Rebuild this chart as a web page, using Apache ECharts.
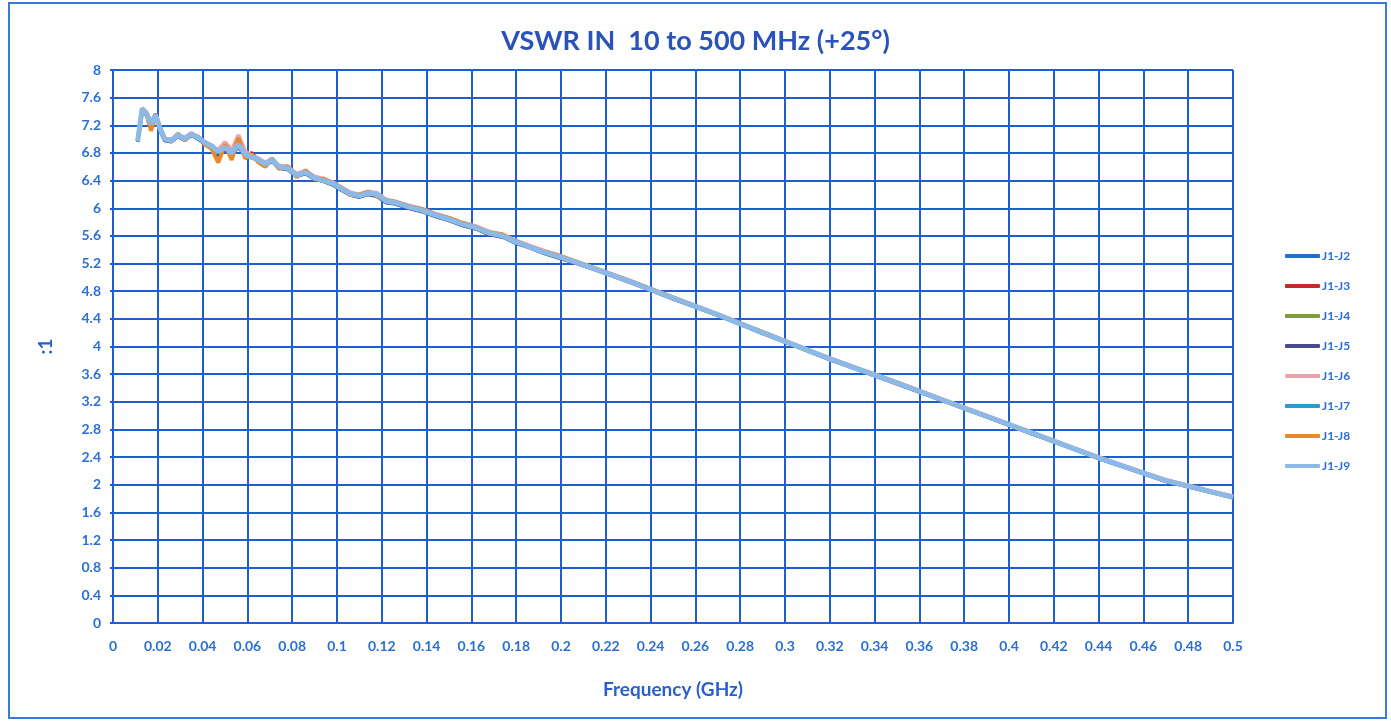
<!DOCTYPE html>
<html>
<head>
<meta charset="utf-8">
<script src="https://cdn.jsdelivr.net/npm/echarts@6/dist/echarts.min.js"></script>
<style>
html,body{margin:0;padding:0;background:#fff;}
#chart{width:1391px;height:721px;}
</style>
</head>
<body>
<div id="chart"></div>
<script>
const titleText = 'VSWR IN  10 to 500 MHz (+25°)';
const seriesNames = ['J1-J2','J1-J3','J1-J4','J1-J5','J1-J6','J1-J7','J1-J8','J1-J9'];
const seriesColors = ['#1f6fd1','#c8282d','#7f9c3c','#4b4a8c','#eaa3ad','#2b9bcf','#e8892c','#8bbae8'];

const freq = [0.011,0.013,0.015,0.017,0.019,0.021,0.023,0.026,0.029,0.032,
  0.035,0.038,0.041,0.044,0.047,0.050,0.053,0.056,0.059,0.062,
  0.065,0.068,0.071,0.074,0.078,0.082,0.086,0.090,0.094,0.098,
  0.102,0.106,0.110,0.114,0.118,0.122,0.126,0.132,0.138,0.144,
  0.150,0.156,0.162,0.168,0.174,0.180,0.186,0.192,0.198,0.210,
  0.230,0.250,0.270,0.290,0.320,0.350,0.380,0.410,0.440,0.470,0.500];

const j2 = [6.98,7.42,7.38,7.20,7.33,7.13,7.01,6.99,7.05,7.01,
  7.06,7.00,6.94,6.88,6.80,6.86,6.82,6.90,6.76,6.75,
  6.68,6.65,6.68,6.61,6.57,6.49,6.51,6.45,6.39,6.35,
  6.27,6.22,6.17,6.21,6.19,6.11,6.07,6.03,5.96,5.91,
  5.83,5.78,5.71,5.65,5.59,5.52,5.43,5.38,5.30,5.19,
  4.94,4.71,4.45,4.21,3.81,3.48,3.10,2.76,2.38,2.07,1.82];
const j3 = [6.99,7.40,7.37,7.16,7.37,7.18,7.02,6.97,7.07,6.99,
  7.05,7.03,6.93,6.89,6.78,6.90,6.79,6.94,6.77,6.80,
  6.69,6.66,6.71,6.59,6.59,6.47,6.53,6.43,6.41,6.35,
  6.29,6.20,6.19,6.23,6.18,6.11,6.09,6.01,5.98,5.89,
  5.85,5.76,5.73,5.63,5.61,5.50,5.45,5.36,5.32,5.17,
  4.96,4.69,4.46,4.19,3.83,3.46,3.11,2.74,2.40,2.05,1.83];
const j4 = [6.96,7.41,7.35,7.19,7.34,7.14,6.99,6.98,7.05,7.00,
  7.08,7.01,6.96,6.89,6.81,6.87,6.78,6.91,6.77,6.73,
  6.71,6.63,6.69,6.61,6.58,6.47,6.52,6.44,6.40,6.37,
  6.27,6.22,6.18,6.21,6.20,6.09,6.08,6.02,5.96,5.90,
  5.84,5.77,5.71,5.64,5.60,5.51,5.44,5.37,5.31,5.18,
  4.95,4.70,4.46,4.20,3.82,3.47,3.11,2.75,2.39,2.06,1.82];
const j5 = [6.97,7.43,7.34,7.14,7.36,7.12,6.98,6.96,7.04,6.98,
  7.06,7.00,6.93,6.87,6.76,6.85,6.77,6.89,6.75,6.77,
  6.68,6.62,6.68,6.58,6.56,6.46,6.50,6.42,6.39,6.34,
  6.26,6.19,6.16,6.20,6.17,6.08,6.06,6.00,5.95,5.88,
  5.82,5.75,5.70,5.62,5.58,5.49,5.43,5.35,5.29,5.17,
  4.94,4.69,4.45,4.19,3.81,3.46,3.10,2.74,2.38,2.05,1.81];
const j6 = [6.98,7.45,7.39,7.24,7.36,7.16,7.01,6.99,7.07,7.02,
  7.09,7.03,6.96,6.91,6.84,6.96,6.84,7.06,6.82,6.76,
  6.72,6.66,6.72,6.62,6.60,6.50,6.54,6.46,6.42,6.38,
  6.30,6.23,6.20,6.24,6.22,6.12,6.10,6.04,5.99,5.92,
  5.86,5.79,5.74,5.66,5.62,5.53,5.46,5.39,5.33,5.19,
  4.96,4.71,4.47,4.21,3.83,3.48,3.12,2.76,2.40,2.07,1.83];
const j7 = [6.96,7.43,7.37,7.21,7.35,7.14,7.00,6.97,7.06,6.99,
  7.07,7.01,6.94,6.89,6.80,6.87,6.79,6.91,6.76,6.73,
  6.69,6.63,6.69,6.59,6.57,6.47,6.51,6.43,6.39,6.35,
  6.27,6.20,6.17,6.21,6.19,6.09,6.07,6.01,5.96,5.89,
  5.83,5.76,5.71,5.63,5.59,5.50,5.43,5.36,5.30,5.18,
  4.95,4.70,4.45,4.20,3.82,3.47,3.11,2.75,2.39,2.06,1.82];
const j8 = [6.97,7.40,7.35,7.12,7.34,7.17,7.01,6.97,7.08,6.98,
  7.06,7.04,6.92,6.86,6.66,6.92,6.70,7.02,6.72,6.78,
  6.66,6.60,6.72,6.57,6.61,6.45,6.55,6.42,6.43,6.36,
  6.30,6.19,6.20,6.24,6.17,6.12,6.09,6.03,5.99,5.91,
  5.86,5.79,5.73,5.65,5.62,5.52,5.45,5.38,5.33,5.19,
  4.96,4.71,4.46,4.21,3.82,3.48,3.11,2.75,2.39,2.06,1.82];
const j9 = [6.97,7.44,7.36,7.22,7.35,7.15,7.00,6.98,7.06,7.00,
  7.07,7.02,6.95,6.90,6.82,6.88,6.80,6.92,6.78,6.74,
  6.70,6.64,6.70,6.60,6.58,6.48,6.52,6.44,6.40,6.36,
  6.28,6.21,6.18,6.22,6.20,6.10,6.08,6.02,5.97,5.90,
  5.84,5.77,5.72,5.64,5.60,5.51,5.44,5.37,5.31,5.18,
  4.95,4.70,4.46,4.20,3.82,3.47,3.11,2.75,2.39,2.06,1.82];

const seriesValues = [j2,j3,j4,j5,j6,j7,j8,j9];
const lineWidths = [3.5,3.5,3.5,3.5,4,3.5,4,5];

const blueText = '#2b6fd6';
const gridBlue = '#1e5fd0';
const fontFam = 'Lato, "Open Sans", "Liberation Sans", sans-serif';

const chart = echarts.init(document.getElementById('chart'), null, {renderer:'canvas'});
chart.setOption({
  animation: false,
  backgroundColor: '#fff',
  graphic: [{
    type: 'rect', silent: true,
    shape: {x: 9, y: 3, width: 1377, height: 715},
    style: {fill: 'none', stroke: '#3a7ad9', lineWidth: 2}
  }],
  title: {
    text: titleText, left: 'center', top: 23,
    textStyle: {color: '#2a52b8', fontSize: 27, fontWeight: 'bold', fontFamily: fontFam}
  },
  legend: {
    orient: 'vertical', left: 1280, top: 245,
    itemWidth: 35, itemHeight: 4, itemGap: 18,
    icon: 'roundRect',
    data: seriesNames,
    textStyle: {color: blueText, fontSize: 12, fontWeight: 'bold', fontFamily: fontFam, padding: [0,0,0,-3]}
  },
  grid: {left: 113, right: 158, top: 70, bottom: 98, containLabel: false},
  xAxis: {
    type: 'value', min: 0, max: 0.5, interval: 0.02,
    name: 'Frequency (GHz)', nameLocation: 'middle', nameGap: 57,
    nameTextStyle: {color: '#2a5fc8', fontSize: 19, fontWeight: 'bold', fontFamily: fontFam},
    axisLine: {show: true, lineStyle: {color: gridBlue, width: 2}},
    axisTick: {show: false},
    splitLine: {show: true, lineStyle: {color: gridBlue, width: 2}},
    axisLabel: {color: blueText, fontSize: 14, fontWeight: 'bold', fontFamily: fontFam, margin: 16,
      formatter: v => String(Math.round(v * 100) / 100)}
  },
  yAxis: {
    type: 'value', min: 0, max: 8, interval: 0.4,
    name: ':1', nameLocation: 'middle', nameGap: 58, nameRotate: 90,
    nameTextStyle: {color: '#2a5fc8', fontSize: 19, fontWeight: 'bold', fontFamily: fontFam},
    axisLine: {show: true, lineStyle: {color: gridBlue, width: 2}},
    axisTick: {show: true, length: 3, lineStyle: {color: gridBlue, width: 2}},
    splitLine: {show: true, lineStyle: {color: gridBlue, width: 2}},
    axisLabel: {color: blueText, fontSize: 14, fontWeight: 'bold', fontFamily: fontFam, margin: 12,
      formatter: v => String(Math.round(v * 10) / 10)}
  },
  series: seriesNames.map((name, i) => ({
    name: name, type: 'line', showSymbol: false, symbol: 'none',
    color: seriesColors[i],
    lineStyle: {color: seriesColors[i], width: lineWidths[i]},
    data: freq.map((f, k) => [f, seriesValues[i][k]]),
    z: 2 + i
  }))
});
</script>
</body>
</html>
